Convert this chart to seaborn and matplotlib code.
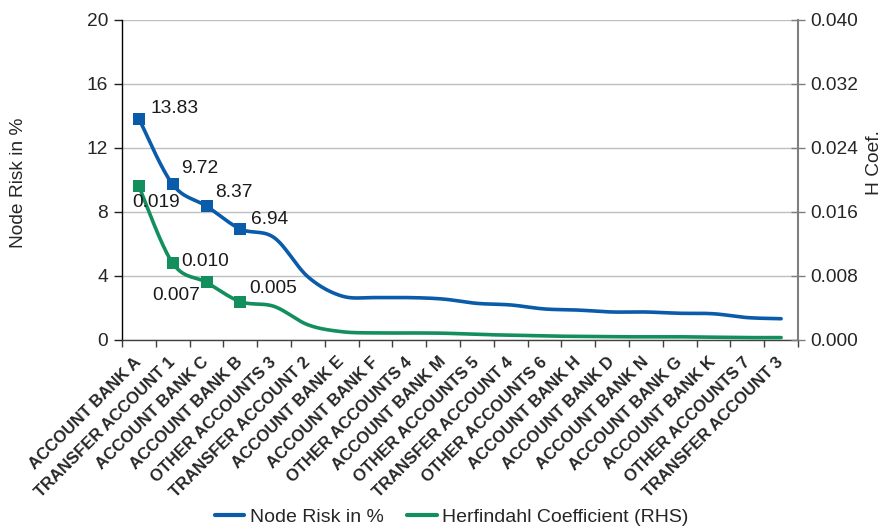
import numpy as np
import pandas as pd
import matplotlib
matplotlib.use("Agg")
import matplotlib.pyplot as plt
import matplotlib.transforms as mtransforms
import seaborn as sns
from matplotlib.lines import Line2D
from matplotlib.ticker import FixedLocator, FormatStrFormatter

categories = ["ACCOUNT BANK A", "TRANSFER ACCOUNT 1", "ACCOUNT BANK C", "ACCOUNT BANK B",
              "OTHER ACCOUNTS 3", "TRANSFER ACCOUNT 2", "ACCOUNT BANK E", "ACCOUNT BANK F",
              "OTHER ACCOUNTS 4", "ACCOUNT BANK M", "OTHER ACCOUNTS 5", "TRANSFER ACCOUNT 4",
              "OTHER ACCOUNTS 6", "ACCOUNT BANK H", "ACCOUNT BANK D", "ACCOUNT BANK N",
              "ACCOUNT BANK G", "ACCOUNT BANK K", "OTHER ACCOUNTS 7", "TRANSFER ACCOUNT 3"]
node_risk = [13.83, 9.72, 8.37, 6.94, 6.4, 3.95, 2.75, 2.65, 2.65, 2.56, 2.29, 2.19,
             1.94, 1.87, 1.75, 1.75, 1.67, 1.64, 1.40, 1.33]
h_coef = [0.0192, 0.0096, 0.0072, 0.0048, 0.0042, 0.0019, 0.00104, 0.00088, 0.00088,
          0.00085, 0.0007, 0.0006, 0.0005, 0.00045, 0.0004, 0.0004, 0.0004, 0.00035,
          0.0003, 0.0003]
left_ticks = [0, 4, 8, 12, 16, 20]
right_ticks = [0.0, 0.008, 0.016, 0.024, 0.032, 0.040]
n_labelled = 4

BLUE = "#0B5BAB"
GREEN = "#138F5E"
FONT = "Liberation Sans"


def smooth(xs, ys, steps=30):
    """Catmull-Rom style smoothing (like Excel's smoothed line) for display."""
    xs = np.asarray(xs, float)
    ys = np.asarray(ys, float)
    px = np.concatenate([[xs[0]], xs, [xs[-1]]])
    py = np.concatenate([[ys[0]], ys, [ys[-1]]])
    ox, oy = [], []
    for i in range(1, len(px) - 2):
        p0 = np.array([px[i - 1], py[i - 1]])
        p1 = np.array([px[i], py[i]])
        p2 = np.array([px[i + 1], py[i + 1]])
        p3 = np.array([px[i + 2], py[i + 2]])
        c1 = p1 + (p2 - p0) / 6.0
        c2 = p2 - (p3 - p1) / 6.0
        t = np.linspace(0, 1, steps, endpoint=(i == len(px) - 3))
        pts = ((1 - t) ** 3)[:, None] * p1 + (3 * (1 - t) ** 2 * t)[:, None] * c1 \
            + (3 * (1 - t) * t ** 2)[:, None] * c2 + (t ** 3)[:, None] * p2
        ox.extend(pts[:, 0])
        oy.extend(pts[:, 1])
    return np.array(ox), np.array(oy)


sns.set_theme(style="white")
plt.rcParams["font.family"] = [FONT, "DejaVu Sans"]
plt.rcParams["font.size"] = 13.5

fig = plt.figure(figsize=(8.83, 5.28), dpi=100)
ax = fig.add_axes([122 / 883, 1 - 340 / 528, 676 / 883, 320 / 528])
ax2 = ax.twinx()

pos = np.arange(len(categories))
sx, sy = smooth(pos, node_risk)
hx, hy = smooth(pos, h_coef)

sns.lineplot(x=sx, y=sy, ax=ax, color=BLUE, lw=2.6, sort=False, estimator=None)
sns.lineplot(x=hx, y=hy, ax=ax2, color=GREEN, lw=2.6, sort=False, estimator=None)
sns.scatterplot(x=pos[:n_labelled], y=node_risk[:n_labelled], ax=ax, marker="s",
                s=80, color=BLUE, edgecolor=BLUE, linewidth=0, zorder=5)
sns.scatterplot(x=pos[:n_labelled], y=h_coef[:n_labelled], ax=ax2, marker="s",
                s=80, color=GREEN, edgecolor=GREEN, linewidth=0, zorder=5)

# data labels
blue_offsets = [(8, 7), (6, 11.5), (6.5, 9.5), (8, 7)]
for i in range(n_labelled):
    ax.annotate(f"{node_risk[i]:.2f}", (pos[i], node_risk[i]), xytext=blue_offsets[i],
                textcoords="offset points", ha="left", va="center", fontsize=13.8,
                color="#1a1a1a")
green_offsets = [((12, -11.5), "center"), ((6.5, 1.5), "left"), ((-4.5, -9.5), "right"),
                 ((6.5, 9.5), "left")]
for i in range(n_labelled):
    off, ha = green_offsets[i]
    ax2.annotate(f"{h_coef[i]:.3f}", (pos[i], h_coef[i]), xytext=off,
                 textcoords="offset points", ha=ha, va="center", fontsize=13.8,
                 color="#1a1a1a")

# axes limits and ticks
ax.set_xlim(-0.5, len(categories) - 0.5)
ax.set_ylim(0, 20)
ax2.set_ylim(0, 0.04)
ax.set_yticks(left_ticks)
ax2.set_yticks(right_ticks)
ax2.yaxis.set_major_formatter(FormatStrFormatter("%.3f"))
ax.set_yticklabels([str(t) for t in left_ticks])

ax.set_xticks(pos)
ax.set_xticklabels(categories, rotation=45, ha="right", va="center",
                   rotation_mode="anchor", fontsize=12, fontweight="bold")
shift = mtransforms.ScaledTranslation(-5 / 100, -2 / 100, fig.dpi_scale_trans)
for lab in ax.get_xticklabels():
    lab.set_transform(lab.get_transform() + shift)
ax.xaxis.set_minor_locator(FixedLocator(np.arange(-0.5, len(categories), 1.0)))
ax.tick_params(axis="x", which="major", length=0, pad=14)
ax.tick_params(axis="x", which="minor", length=5, width=1, direction="out",
               color="#404040", bottom=True)
ax.tick_params(axis="y", length=6, width=1, direction="out", pad=4, color="#202020",
               labelsize=13.8, left=True)
ax2.tick_params(axis="y", length=10, width=1, direction="inout", pad=4, color="#7f7f7f",
                labelsize=13.8, right=True)

ax.grid(axis="y", color="#BFBFBF", lw=1)
ax.grid(axis="x", visible=False)
ax2.grid(False)

for a in (ax, ax2):
    a.spines["top"].set_visible(False)
ax.spines["right"].set_visible(False)
ax2.spines["left"].set_visible(False)
ax2.spines["bottom"].set_visible(False)
ax.spines["left"].set_color("#000000")
ax.spines["left"].set_linewidth(1)
ax.spines["bottom"].set_color("#404040")
ax.spines["bottom"].set_linewidth(1)
ax2.spines["right"].set_color("#7f7f7f")
ax2.spines["right"].set_linewidth(1.5)

ax.set_ylabel("Node Risk in %", fontsize=13.8)
ax.yaxis.set_label_coords(-0.1405, 0.49)
ax2.set_ylabel("H Coef.", fontsize=13.8)
ax2.yaxis.set_label_coords(1.1006, 0.556)

handles = [Line2D([], [], color=BLUE, lw=3), Line2D([], [], color=GREEN, lw=3)]
fig.legend(handles, ["Node Risk in %", "Herfindahl Coefficient (RHS)"],
           loc="center", bbox_to_anchor=(452 / 883, 1 - 517 / 528), ncol=2,
           frameon=False, fontsize=14, handlelength=1.5, handletextpad=0.3,
           columnspacing=1.2)

fig.savefig("out.png", dpi=100)
